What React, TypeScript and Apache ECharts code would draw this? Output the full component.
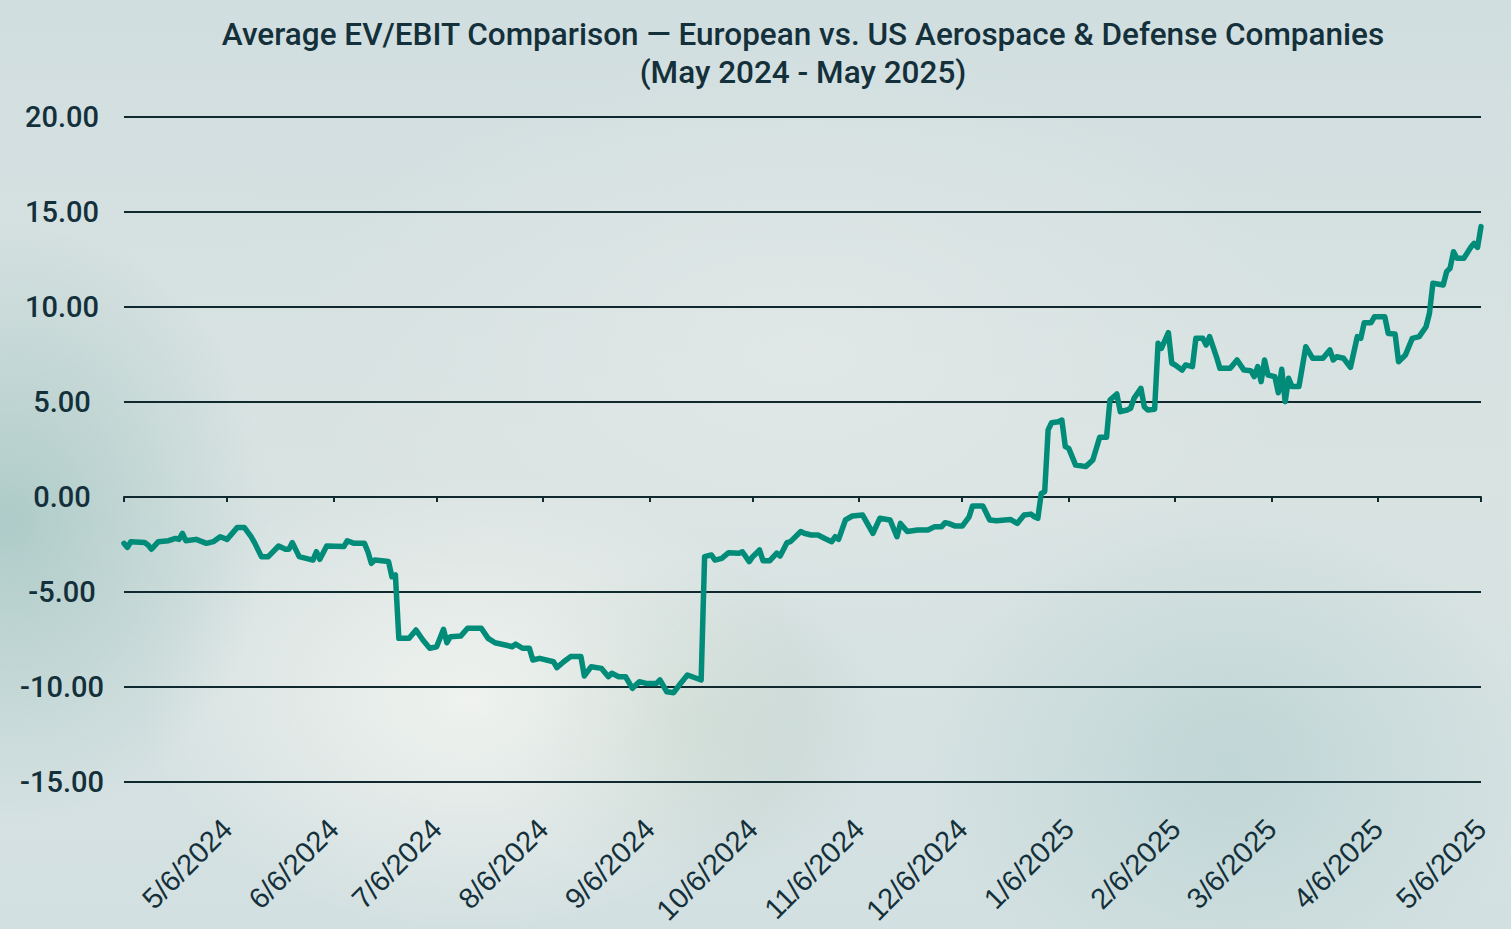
import React, { useEffect, useRef } from "react";
import * as echarts from "echarts";

const TITLE = "Average EV/EBIT Comparison — European vs. US Aerospace & Defense Companies";
const SUBTITLE = "(May 2024 - May 2025)";

const Y_MIN = -15;
const Y_MAX = 20;
const Y_STEP = 5;

const START_DATE = "2024-04-06";
const END_DATE = "2025-05-06";

const TICK_DATES = [
  "2024-04-06", "2024-05-06", "2024-06-06", "2024-07-06", "2024-08-06", "2024-09-06", "2024-10-06",
  "2024-11-06", "2024-12-06", "2025-01-06", "2025-02-06", "2025-03-06", "2025-04-06", "2025-05-06",
];
const LABEL_DATES = TICK_DATES.slice(1);

const DATES = [
  "2024-04-06", "2024-04-07", "2024-04-08", "2024-04-12", "2024-04-13", "2024-04-14", "2024-04-16",
  "2024-04-19", "2024-04-21", "2024-04-22", "2024-04-23", "2024-04-24", "2024-04-27", "2024-04-30",
  "2024-05-02", "2024-05-04", "2024-05-06", "2024-05-09", "2024-05-11", "2024-05-13", "2024-05-14",
  "2024-05-16", "2024-05-18", "2024-05-21", "2024-05-23", "2024-05-24", "2024-05-25", "2024-05-27",
  "2024-05-31", "2024-06-01", "2024-06-02", "2024-06-04", "2024-06-09", "2024-06-10", "2024-06-12",
  "2024-06-15", "2024-06-16", "2024-06-17", "2024-06-18", "2024-06-22", "2024-06-23", "2024-06-24",
  "2024-06-25", "2024-06-28", "2024-06-30", "2024-07-02", "2024-07-04", "2024-07-06", "2024-07-08",
  "2024-07-09", "2024-07-10", "2024-07-13", "2024-07-15", "2024-07-19", "2024-07-21", "2024-07-23",
  "2024-07-26", "2024-07-28", "2024-07-29", "2024-07-31", "2024-08-02", "2024-08-03", "2024-08-05",
  "2024-08-09", "2024-08-10", "2024-08-12", "2024-08-14", "2024-08-17", "2024-08-18", "2024-08-20",
  "2024-08-23", "2024-08-25", "2024-08-26", "2024-08-28", "2024-08-30", "2024-09-01", "2024-09-03",
  "2024-09-05", "2024-09-08", "2024-09-09", "2024-09-11", "2024-09-13", "2024-09-15", "2024-09-17",
  "2024-09-19", "2024-09-21", "2024-09-22", "2024-09-24", "2024-09-25", "2024-09-27", "2024-09-29",
  "2024-10-02", "2024-10-03", "2024-10-05", "2024-10-06", "2024-10-08", "2024-10-09", "2024-10-11",
  "2024-10-13", "2024-10-14", "2024-10-16", "2024-10-17", "2024-10-20", "2024-10-21", "2024-10-23",
  "2024-10-25", "2024-10-27", "2024-10-29", "2024-10-30", "2024-10-31", "2024-11-02", "2024-11-04",
  "2024-11-07", "2024-11-10", "2024-11-12", "2024-11-15", "2024-11-17", "2024-11-18", "2024-11-20",
  "2024-11-23", "2024-11-26", "2024-11-28", "2024-11-30", "2024-12-01", "2024-12-02", "2024-12-04",
  "2024-12-06", "2024-12-08", "2024-12-09", "2024-12-12", "2024-12-14", "2024-12-16", "2024-12-20",
  "2024-12-22", "2024-12-24", "2024-12-26", "2024-12-27", "2024-12-28", "2024-12-29", "2024-12-30",
  "2024-12-31", "2025-01-01", "2025-01-03", "2025-01-04", "2025-01-05", "2025-01-06", "2025-01-08",
  "2025-01-11", "2025-01-13", "2025-01-15", "2025-01-17", "2025-01-18", "2025-01-20", "2025-01-21",
  "2025-01-23", "2025-01-24", "2025-01-25", "2025-01-27", "2025-01-28", "2025-01-29", "2025-01-31",
  "2025-02-01", "2025-02-02", "2025-02-04", "2025-02-05", "2025-02-06", "2025-02-08", "2025-02-09",
  "2025-02-11", "2025-02-12", "2025-02-14", "2025-02-15", "2025-02-16", "2025-02-18", "2025-02-19",
  "2025-02-22", "2025-02-24", "2025-02-26", "2025-02-28", "2025-03-01", "2025-03-02", "2025-03-03",
  "2025-03-04", "2025-03-05", "2025-03-07", "2025-03-08", "2025-03-09", "2025-03-10", "2025-03-11",
  "2025-03-12", "2025-03-14", "2025-03-16", "2025-03-18", "2025-03-21", "2025-03-23", "2025-03-24",
  "2025-03-25", "2025-03-27", "2025-03-29", "2025-03-31", "2025-04-01", "2025-04-02", "2025-04-04",
  "2025-04-05", "2025-04-08", "2025-04-09", "2025-04-11", "2025-04-12", "2025-04-14", "2025-04-16",
  "2025-04-18", "2025-04-20", "2025-04-21", "2025-04-22", "2025-04-25", "2025-04-26", "2025-04-27",
  "2025-04-28", "2025-04-29", "2025-05-01", "2025-05-03", "2025-05-04", "2025-05-05", "2025-05-06",
];

const VALUES = [
  -2.44, -2.65, -2.35, -2.4, -2.53, -2.75, -2.35,
  -2.3, -2.18, -2.23, -1.91, -2.3, -2.23, -2.44,
  -2.35, -2.09, -2.23, -1.6, -1.6, -2.09, -2.4,
  -3.14, -3.14, -2.58, -2.75, -2.75, -2.4, -3.14,
  -3.32, -2.88, -3.28, -2.58, -2.61, -2.3, -2.44,
  -2.44, -2.88, -3.49, -3.32, -3.4, -4.2, -4.1,
  -7.44, -7.44, -7.0, -7.53, -7.96, -7.88, -6.96,
  -7.67, -7.35, -7.32, -6.91, -6.91, -7.44, -7.67,
  -7.79, -7.88, -7.74, -7.96, -7.96, -8.58, -8.49,
  -8.67, -8.98, -8.67, -8.4, -8.4, -9.42, -8.93,
  -9.02, -9.46, -9.28, -9.46, -9.46, -10.07, -9.72,
  -9.81, -9.81, -9.63, -10.25, -10.3, -9.81, -9.37,
  -9.5, -9.63, -3.14, -3.05, -3.32, -3.23, -2.93,
  -2.96, -2.88, -3.4, -3.14, -2.79, -3.35, -3.35,
  -2.96, -3.11, -2.4, -2.35, -1.82, -1.91, -2.0,
  -2.0, -2.18, -2.35, -2.09, -2.23, -1.21, -1.0,
  -0.95, -1.91, -1.12, -1.21, -2.09, -1.39, -1.82,
  -1.74, -1.74, -1.56, -1.56, -1.35, -1.39, -1.53,
  -1.53, -1.04, -0.47, -0.47, -1.21, -1.25, -1.18,
  -1.39, -0.95, -0.9, -1.04, -1.12, 0.19, 0.28,
  3.53, 3.91, 3.96, 4.05, 2.65, 2.56, 1.68,
  1.6, 1.95, 3.14, 3.14, 5.1, 5.42, 4.49,
  4.58, 4.67, 5.19, 5.72, 4.75, 4.58, 4.62,
  8.09, 7.83, 8.65, 7.04, 6.95, 6.68, 6.95,
  6.86, 8.35, 8.35, 8.0, 8.44, 7.38, 6.77,
  6.77, 7.21, 6.68, 6.65, 6.33, 6.86, 6.07,
  7.21, 6.42, 6.33, 5.49, 6.72, 5.02, 6.25,
  5.81, 5.81, 7.91, 7.3, 7.3, 7.74, 7.21,
  7.38, 7.3, 6.82, 8.44, 8.35, 9.17, 9.17,
  9.49, 9.49, 8.61, 8.58, 7.12, 7.47, 8.35,
  8.44, 8.96, 9.67, 11.25, 11.16, 11.86, 12.04,
  12.91, 12.56, 12.56, 13.14, 13.35, 13.14, 14.23,
];

const TEXT_COLOR = "#14303a";
const GRID_COLOR = "#10292f";
const LINE_COLOR = "#008c79";

const toMs = (d: string) => Date.parse(d + "T00:00:00Z");
const fmtDate = (v: number) => {
  const d = new Date(v);
  return `${d.getUTCMonth() + 1}/${d.getUTCDate()}/${d.getUTCFullYear()}`;
};

export default function App() {
  const ref = useRef<HTMLDivElement>(null);

  useEffect(() => {
    document.body.style.margin = "0";
    if (!ref.current) return;
    const chart = echarts.init(ref.current, undefined, { renderer: "svg" });
    const xMin = toMs(START_DATE);
    const xMax = toMs(END_DATE);
    const ticks = TICK_DATES.map(toMs);
    const labels = LABEL_DATES.map(toMs);
    const data = DATES.map((d, i) => [toMs(d), VALUES[i]]);

    chart.setOption({
      animation: false,
      backgroundColor: "transparent",
      graphic: [
        {
          type: "text",
          x: 803,
          y: 34,
          style: {
            text: TITLE,
            fill: TEXT_COLOR,
            font: "500 31.5px Roboto",
            textAlign: "center",
            textVerticalAlign: "middle",
          },
        },
        {
          type: "text",
          x: 803,
          y: 72,
          style: {
            text: SUBTITLE,
            fill: TEXT_COLOR,
            font: "500 31.5px Roboto",
            textAlign: "center",
            textVerticalAlign: "middle",
          },
        },
      ],
      grid: { left: 124, right: 30, top: 117, bottom: 147, containLabel: false },
      xAxis: [
        {
          type: "value",
          min: xMin,
          max: xMax,
          position: "bottom",
          axisLine: { show: true, onZero: true, lineStyle: { color: GRID_COLOR, width: 2 } },
          axisTick: { show: true, customValues: ticks, length: 5, lineStyle: { color: GRID_COLOR, width: 2 } },
          axisLabel: { show: false },
          splitLine: { show: false },
        },
        {
          type: "value",
          min: xMin,
          max: xMax,
          position: "bottom",
          axisLine: { show: false, onZero: false },
          axisTick: { show: false },
          axisLabel: {
            show: true,
            customValues: labels,
            rotate: 45,
            margin: 42,
            formatter: (v: number) => fmtDate(v),
            color: TEXT_COLOR,
            fontFamily: "Liberation Sans",
            fontSize: 29,
          },
          splitLine: { show: false },
        },
      ],
      yAxis: {
        type: "value",
        min: Y_MIN,
        max: Y_MAX,
        interval: Y_STEP,
        axisLine: { show: false },
        axisTick: { show: false },
        splitLine: { show: true, lineStyle: { color: GRID_COLOR, width: 2 } },
        axisLabel: {
          formatter: (v: number) => v.toFixed(2),
          align: "center",
          margin: 62,
          padding: [6, 0, 0, 0],
          color: TEXT_COLOR,
          fontFamily: "Roboto",
          fontWeight: 500,
          fontSize: 29,
        },
      },
      series: [
        {
          type: "line",
          xAxisIndex: 0,
          data,
          showSymbol: false,
          symbol: "none",
          lineStyle: { color: LINE_COLOR, width: 5.5, join: "round", cap: "round" },
          itemStyle: { color: LINE_COLOR },
        },
      ],
    });
    return () => chart.dispose();
  }, []);

  return (
    <div
      style={{
        position: "absolute",
        left: 0,
        top: 0,
        width: 1511,
        height: 929,
        background:
          "radial-gradient(ellipse 260px 300px at 10px 520px, rgba(160,196,192,0.75), rgba(160,196,192,0) 100%)," +
          "radial-gradient(ellipse 330px 230px at 470px 700px, rgba(242,244,240,0.9), rgba(242,244,240,0) 100%)," +
          "radial-gradient(ellipse 200px 160px at 680px 720px, rgba(190,208,198,0.7), rgba(190,208,198,0) 100%)," +
          "radial-gradient(ellipse 300px 260px at 1230px 760px, rgba(178,206,206,0.6), rgba(178,206,206,0) 100%)," +
          "radial-gradient(ellipse 500px 300px at 800px 350px, rgba(226,233,232,0.8), rgba(226,233,232,0) 100%)," +
          "linear-gradient(180deg, #d1dedf 0%, #d9e3e2 50%, #d3e0e1 100%)",
      }}
    >
      <div ref={ref} style={{ width: 1511, height: 929 }} />
    </div>
  );
}
